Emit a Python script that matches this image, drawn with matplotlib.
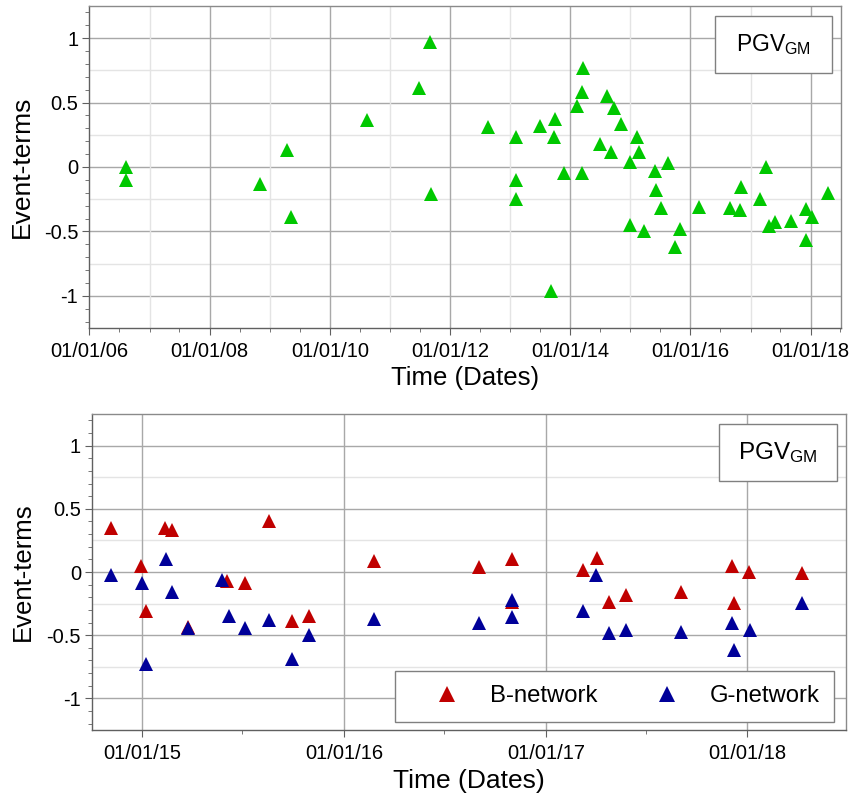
import matplotlib
matplotlib.use('Agg')
import matplotlib.pyplot as plt
import matplotlib.dates as mdates
from matplotlib.ticker import MultipleLocator, FuncFormatter
from matplotlib.patches import Rectangle
from datetime import datetime

plt.rcParams['font.family'] = ['Liberation Sans', 'DejaVu Sans']
plt.rcParams['mathtext.fontset'] = 'custom'
plt.rcParams['mathtext.rm'] = 'Liberation Sans'
plt.rcParams['mathtext.it'] = 'Liberation Sans'
plt.rcParams['axes.unicode_minus'] = False

# ---------------- data (decimal years, event terms) ----------------
all_years = [2006.60, 2006.60, 2008.83, 2009.29, 2009.35, 2010.61, 2011.48, 2011.67,
             2011.68, 2012.63, 2013.10, 2013.10, 2013.10, 2013.50, 2013.68, 2013.75,
             2013.73, 2013.90, 2014.12, 2014.20, 2014.21, 2014.19, 2014.49, 2014.61,
             2014.67, 2014.73, 2014.84, 2014.99, 2015.11, 2015.15, 2015.00, 2015.23,
             2015.41, 2015.43, 2015.51, 2015.63, 2015.74, 2015.82, 2016.15, 2016.66,
             2016.83, 2016.84, 2017.16, 2017.25, 2017.31, 2017.41, 2017.68, 2017.93,
             2018.02, 2017.93, 2018.28]
all_terms = [0.00, -0.10, -0.13, 0.13, -0.39, 0.365, 0.61, 0.97,
             -0.21, 0.31, 0.23, -0.10, -0.25, 0.315, -0.96, 0.37,
             0.23, -0.05, 0.47, 0.58, 0.77, -0.05, 0.175, 0.55,
             0.12, 0.455, 0.335, 0.04, 0.235, 0.12, -0.45, -0.50,
             -0.035, -0.18, -0.32, 0.03, -0.62, -0.48, -0.31, -0.32,
             -0.335, -0.155, -0.245, 0.00, -0.455, -0.43, -0.42, -0.325,
             -0.385, -0.565, -0.20]

b_years = [2014.846, 2014.995, 2015.017, 2015.114, 2015.149, 2015.226, 2015.420,
           2015.510, 2015.629, 2015.745, 2015.827, 2016.151, 2016.668, 2016.833,
           2016.833, 2017.185, 2017.252, 2017.313, 2017.397, 2017.673, 2017.924,
           2017.934, 2018.010, 2018.274]
b_terms = [0.35, 0.05, -0.31, 0.345, 0.335, -0.435, -0.075,
           -0.09, 0.40, -0.39, -0.345, 0.09, 0.04, 0.10,
           -0.235, 0.015, 0.11, -0.235, -0.185, -0.155, 0.05,
           -0.245, 0.00, -0.005]

g_years = [2014.846, 2015.000, 2015.018, 2015.116, 2015.149, 2015.226, 2015.396,
           2015.428, 2015.510, 2015.629, 2015.745, 2015.827, 2016.149, 2016.668,
           2016.833, 2016.832, 2017.185, 2017.250, 2017.313, 2017.397, 2017.673,
           2017.924, 2017.934, 2018.013, 2018.274]
g_terms = [-0.02, -0.09, -0.73, 0.10, -0.155, -0.44, -0.06,
           -0.35, -0.44, -0.38, -0.69, -0.50, -0.37, -0.40,
           -0.225, -0.36, -0.31, -0.025, -0.485, -0.455, -0.475,
           -0.40, -0.615, -0.455, -0.245]

top_xlim = (2006.0, 2018.5)
bottom_xlim = (2014.75, 2018.49)
ylim = (-1.25, 1.25)
yticks = [-1, -0.5, 0, 0.5, 1]


def to_dates(years):
    out = []
    for y in years:
        yi = int(y)
        start = datetime(yi, 1, 1)
        end = datetime(yi + 1, 1, 1)
        out.append(start + (end - start) * (y - yi))
    return out


GREEN = '#00C800'
RED = '#C00000'
BLUE = '#000099'
SPINE = '#606060'

fig = plt.figure(figsize=(8.53, 7.95), dpi=100)
ax1 = fig.add_axes([0.1049, 0.5874, 0.8807, 0.4051])
ax2 = fig.add_axes([0.1079, 0.0818, 0.8839, 0.3974])

yfmt = FuncFormatter(lambda v, p: '%g' % v)


def style_axes(ax, xl):
    ax.set_ylim(*ylim)
    d0, d1 = to_dates([xl[0], xl[1]])
    ax.set_xlim(d0, d1)
    ax.set_yticks(yticks)
    ax.yaxis.set_major_formatter(yfmt)
    ax.yaxis.set_minor_locator(MultipleLocator(0.1))
    ax.xaxis.set_major_formatter(mdates.DateFormatter('%m/%d/%y'))
    ax.xaxis.set_minor_locator(mdates.MonthLocator(bymonth=[1, 7]))
    ax.tick_params(axis='both', which='major', direction='out', length=5,
                   width=0.8, color=SPINE, labelsize=14.5, pad=3)
    ax.tick_params(axis='both', which='minor', direction='out', length=3,
                   width=0.6, color=SPINE)
    ax.tick_params(axis='x', which='major', pad=5)
    for s in ax.spines.values():
        s.set_color('#8a8a8a')
        s.set_linewidth(1.0)
    ax.spines['left'].set_color(SPINE)
    ax.spines['bottom'].set_color(SPINE)
    # horizontal grid
    for v in [-1.0, -0.5, 0.0, 0.5, 1.0]:
        ax.axhline(v, color='#a8a8a8', lw=1.0, zorder=0)
    for v in [-0.75, -0.25, 0.25, 0.75]:
        ax.axhline(v, color='#e4e4e4', lw=1.0, zorder=0)


# ---------------- top panel ----------------
style_axes(ax1, top_xlim)
ax1.xaxis.set_major_locator(mdates.YearLocator(2))
for yr in range(2007, 2019, 2):
    ax1.axvline(datetime(yr, 1, 1), color='#e4e4e4', lw=1.0, zorder=0)
for yr in range(2008, 2019, 2):
    ax1.axvline(datetime(yr, 1, 1), color='#a8a8a8', lw=1.0, zorder=0)
ax1.plot(to_dates(all_years), all_terms, linestyle='none', marker='^',
         markersize=10.5, color=GREEN, markeredgewidth=0, zorder=3)
ax1.set_ylabel('Event-terms', fontsize=19)
ax1.set_xlabel('Time (Dates)', fontsize=18.5)
ax1.yaxis.set_label_coords(-0.074, 0.5)
ax1.xaxis.set_label_coords(0.5, -0.118)

ax1.add_patch(Rectangle((0.8327, 0.7919), 0.1557, 0.178, transform=ax1.transAxes,
                        facecolor='white', edgecolor='#808080', lw=1.0, zorder=5))
ax1.text(0.91, 0.879, r'PGV$_{\mathrm{GM}}$', transform=ax1.transAxes,
         ha='center', va='center', fontsize=16.5, zorder=6)

# ---------------- bottom panel ----------------
style_axes(ax2, bottom_xlim)
ax2.xaxis.set_major_locator(mdates.YearLocator(1))
for yr in range(2015, 2019):
    ax2.axvline(datetime(yr, 1, 1), color='#a8a8a8', lw=1.0, zorder=0)
ax2.plot(to_dates(b_years), b_terms, linestyle='none', marker='^',
         markersize=10, color=RED, markeredgewidth=0, zorder=3, label='B-network')
ax2.plot(to_dates(g_years), g_terms, linestyle='none', marker='^',
         markersize=10, color=BLUE, markeredgewidth=0, zorder=4, label='G-network')
ax2.set_ylabel('Event-terms', fontsize=18.5)
ax2.set_xlabel('Time (Dates)', fontsize=19)
ax2.yaxis.set_label_coords(-0.076, 0.5)
ax2.xaxis.set_label_coords(0.5, -0.125)

ax2.add_patch(Rectangle((0.8316, 0.789), 0.1569, 0.179, transform=ax2.transAxes,
                        facecolor='white', edgecolor='#808080', lw=1.0, zorder=5))
ax2.text(0.91, 0.877, r'PGV$_{\mathrm{GM}}$', transform=ax2.transAxes,
         ha='center', va='center', fontsize=17.5, zorder=6)

leg = ax2.legend(loc='lower left', bbox_to_anchor=(0.402, 0.026), ncol=2,
                 fontsize=17.2, frameon=True, fancybox=False, framealpha=1,
                 edgecolor='#808080', borderpad=0.6, handlelength=3.15,
                 handletextpad=0.23, columnspacing=1.31, borderaxespad=0,
                 markerscale=1.15)
leg.get_frame().set_linewidth(1.0)
leg.set_zorder(10)

fig.savefig('out.png', dpi=100)
